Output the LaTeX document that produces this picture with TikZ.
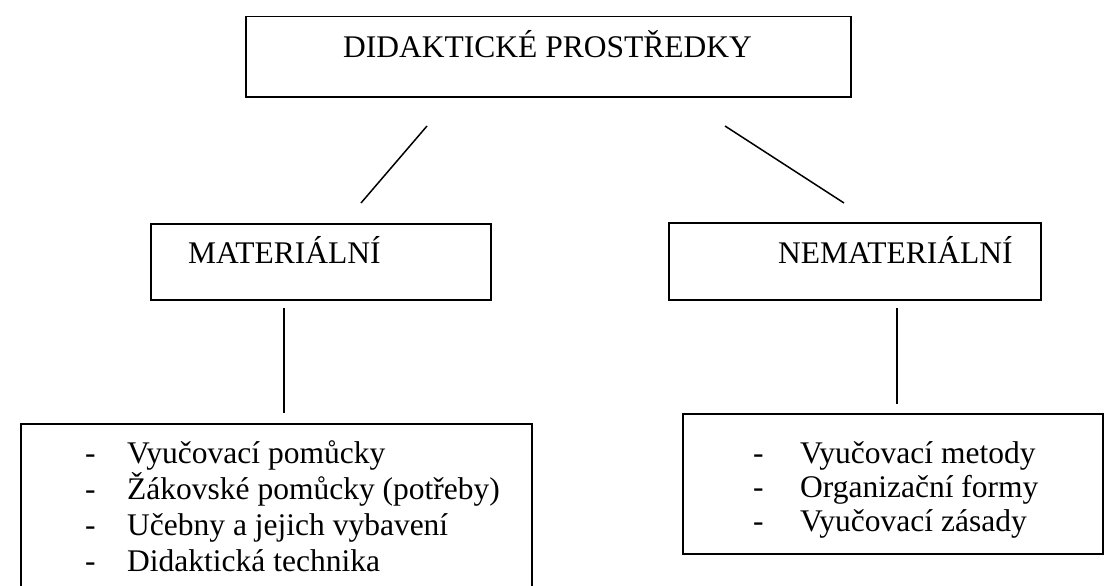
\documentclass[tikz,border=0pt]{standalone}
\usepackage{fontspec}
\setmainfont{Liberation Serif}
\begin{document}
\begin{tikzpicture}[x=1pt,y=-1pt,
  box/.style={draw, line width=1.5pt, inner sep=0pt, anchor=north west},
  txt/.style={anchor=base west, inner sep=0pt, font=\fontsize{31.5}{36}\selectfont},
  conn/.style={line width=1.5pt}]
\useasboundingbox (0,0) rectangle (1106,586);
% boxes
\node[box, minimum width=605pt, minimum height=80pt] (top) at (245,16) {};
\node[box, minimum width=340pt, minimum height=76pt] (mat) at (150,223) {};
\node[box, minimum width=372pt, minimum height=77pt] (nemat) at (668,222) {};
\node[box, minimum width=511pt, minimum height=180pt] (matlist) at (20,423) {};
\node[box, minimum width=420pt, minimum height=140pt] (nematlist) at (682,413) {};
% texts
\node[txt] (ttop) at (343,58) {DIDAKTICKÉ PROSTŘEDKY};
\node[txt] (tmat) at (188,263) {MATERIÁLNÍ};
\node[txt] (tnemat) at (778,263) {NEMATERIÁLNÍ};
\node[txt] (d1) at (85,463) {-}; \node[txt] (m1) at (127,463) {Vyučovací pomůcky};
\node[txt] (d2) at (85,499) {-}; \node[txt] (m2) at (127,499) {Žákovské pomůcky (potřeby)};
\node[txt] (d3) at (85,535) {-}; \node[txt] (m3) at (127,535) {Učebny a jejich vybavení};
\node[txt] (d4) at (85,571) {-}; \node[txt] (m4) at (127,571) {Didaktická technika};
\node[txt] (e1) at (753,463) {-}; \node[txt] (n1) at (800,463) {Vyučovací metody};
\node[txt] (e2) at (753,497) {-}; \node[txt] (n2) at (800,497) {Organizační formy};
\node[txt] (e3) at (753,531) {-}; \node[txt] (n3) at (800,531) {Vyučovací zásady};
% connectors
\coordinate (a1) at (427,126); \coordinate (a2) at (361,203);
\coordinate (b1) at (725,126); \coordinate (b2) at (844,203);
\coordinate (c1) at (284,308); \coordinate (c2) at (284,413);
\coordinate (f1) at (897,308); \coordinate (f2) at (897,404);
\draw[conn] (a1) -- (a2);
\draw[conn] (b1) -- (b2);
\draw[conn] (c1) -- (c2);
\draw[conn] (f1) -- (f2);
\end{tikzpicture}
\end{document}
